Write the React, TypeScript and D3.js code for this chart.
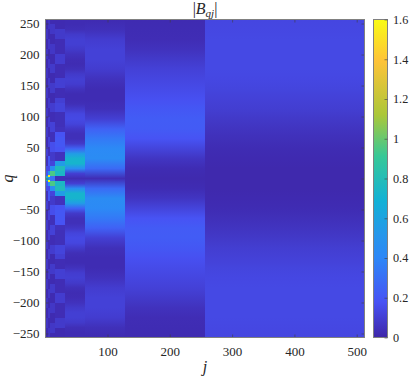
import { useEffect, useRef } from "react";
import * as d3 from "d3";

const width = 409;
const height = 377;
const margin = { top: 19.5, right: 44.5, bottom: 39.5, left: 45.5 };

const xTicks = [100, 200, 300, 400, 500];
const yTicks = [250, 200, 150, 100, 50, 0, -50, -100, -150, -200, -250];
const colorTicks = [0, 0.2, 0.4, 0.6, 0.8, 1, 1.2, 1.4, 1.6];

// parula anchors
const parulaStops = [0, 0.111, 0.25, 0.32, 0.43, 0.57, 0.7, 0.87, 1];
const parulaColors = ["#3e26a8", "#4752f4", "#2d87f7", "#2796eb", "#12b1d6", "#37c897", "#abc739", "#fec338", "#f9fb14"];

// |B| values, q = 256 down to 0, step 16 (wide bands)
const band257 = [0.13, 0.135, 0.14, 0.14, 0.14, 0.14, 0.135, 0.125, 0.11, 0.095, 0.075, 0.055, 0.04, 0.025, 0.018, 0.012, 0.012];
const band129 = [0.02, 0.025, 0.03, 0.05, 0.08, 0.11, 0.13, 0.15, 0.17, 0.2, 0.22, 0.215, 0.18, 0.12, 0.06, 0.025, 0.015];
const band65 = [0.02, 0.04, 0.09, 0.11, 0.11, 0.09, 0.05, 0.025, 0.025, 0.04, 0.1, 0.24, 0.34, 0.42, 0.44, 0.28, 0.03];
// q = 256 down to 0, step 8 (narrow bands)
const band33 = [0.025, 0.025, 0.035, 0.08, 0.1, 0.1, 0.08, 0.05, 0.03, 0.025, 0.04, 0.08, 0.1, 0.09, 0.05, 0.025, 0.025, 0.035, 0.08, 0.13, 0.14, 0.12, 0.07, 0.04, 0.04, 0.08, 0.25, 0.55, 0.72, 0.72, 0.45, 0.1, 0.03];
const band17 = [0.02, 0.02, 0.08, 0.08, 0.03, 0.03, 0.03, 0.09, 0.09, 0.03, 0.03, 0.03, 0.1, 0.1, 0.03, 0.03, 0.1, 0.12, 0.12, 0.04, 0.04, 0.04, 0.05, 0.18, 0.2, 0.2, 0.18, 0.05, 0.05, 0.55, 0.78, 0.75, 0.04];
const band9 = [0.02, 0.07, 0.07, 0.02, 0.02, 0.07, 0.07, 0.02, 0.02, 0.08, 0.08, 0.02, 0.02, 0.08, 0.08, 0.02, 0.02, 0.09, 0.09, 0.03, 0.03, 0.11, 0.11, 0.04, 0.04, 0.16, 0.16, 0.08, 0.08, 0.12, 0.45, 0.95, 0.3];
const band5 = [0.06, 0.06, 0.02, 0.02, 0.07, 0.07, 0.02, 0.02, 0.07, 0.07, 0.02, 0.02, 0.08, 0.08, 0.02, 0.02, 0.08, 0.08, 0.03, 0.03, 0.09, 0.09, 0.03, 0.03, 0.11, 0.11, 0.04, 0.04, 0.2, 0.2, 0.15, 0.5, 0.5];
const band1 = [0.02, 0.02, 0.06, 0.06, 0.02, 0.02, 0.06, 0.06, 0.02, 0.02, 0.06, 0.06, 0.02, 0.02, 0.07, 0.07, 0.02, 0.02, 0.07, 0.07, 0.03, 0.03, 0.08, 0.08, 0.03, 0.03, 0.1, 0.1, 0.05, 0.05, 0.15, 0.2, 0.7];

// the two hot spots beside q = 0 in j = 5..8
const hotQ = [8, 4, 0, -4, -8];
const hotValues = [0.5, 1.55, 0.5, 1.6, 0.5];

const smoothBands = [
  { from: 257, to: 512, half: band257 },
  { from: 129, to: 256, half: band129 },
  { from: 65, to: 128, half: band65 },
  { from: 33, to: 64, half: band33 },
];
const cellBands = [
  { from: 17, to: 32, half: band17 },
  { from: 9, to: 16, half: band9 },
  { from: 5, to: 8, half: band5 },
  { from: 1, to: 4, half: band1 },
];

const mirror = (half: number[]) => [...half, ...half.slice(0, -1).reverse()];

const App = () => {
  const svgRef = useRef<SVGSVGElement>(null);

  useEffect(() => {
    document.body.style.margin = "0";
    const svg = d3.select(svgRef.current);
    svg.selectAll("*").remove();

    const x0 = margin.left;
    const x1 = width - margin.right;
    const y0 = margin.top;
    const y1 = height - margin.bottom;
    const font = "'Liberation Serif', serif";

    const x = d3.scaleLinear().domain([0.5, 512.5]).range([x0, x1]);
    const y = d3.scaleLinear().domain([256.5, -256.5]).range([y0, y1]);
    const parula = d3
      .scaleLinear<string>()
      .domain(parulaStops.map((t) => t * 1.6))
      .range(parulaColors)
      .clamp(true);

    const defs = svg.append("defs");

    // wide bands are smooth in q
    smoothBands.forEach((b, i) => {
      const vals = mirror(b.half);
      const grad = defs
        .append("linearGradient")
        .attr("id", `band${i}`)
        .attr("x1", 0)
        .attr("x2", 0)
        .attr("y1", 0)
        .attr("y2", 1);
      vals.forEach((v, k) => {
        grad
          .append("stop")
          .attr("offset", k / (vals.length - 1))
          .attr("stop-color", parula(v));
      });
      svg
        .append("rect")
        .attr("x", x(b.from - 0.5))
        .attr("y", y0)
        .attr("width", x(b.to + 0.5) - x(b.from - 0.5))
        .attr("height", y1 - y0)
        .attr("shape-rendering", "crispEdges")
        .attr("fill", `url(#band${i})`);
    });

    // narrow bands are stepped
    cellBands.forEach((b) => {
      const vals = mirror(b.half);
      const q = d3.scaleBand<number>().domain(d3.range(vals.length)).range([y0, y1]);
      svg
        .append("g")
        .attr("shape-rendering", "crispEdges")
        .selectAll("rect")
        .data(vals)
        .join("rect")
        .attr("x", x(b.from - 0.5))
        .attr("width", x(b.to + 0.5) - x(b.from - 0.5))
        .attr("y", (_, k) => q(k) as number)
        .attr("height", q.bandwidth() + 0.5)
        .attr("fill", (d) => parula(d));
    });

    svg
      .append("g")
      .attr("shape-rendering", "crispEdges")
      .selectAll("rect")
      .data(hotQ)
      .join("rect")
      .attr("x", x(4.5))
      .attr("width", x(8.5) - x(4.5))
      .attr("y", (d) => y(d + 2))
      .attr("height", y(0) - y(4))
      .attr("fill", (_, k) => parula(hotValues[k]));

    // axes
    const styleAxis = (g: any, size = 13) => {
      g.selectAll(".domain").remove();
      g.selectAll("line").attr("stroke", "#404040").attr("stroke-width", 0.6);
      g.selectAll("text").attr("font-family", font).attr("font-size", size).attr("fill", "#262626");
    };
    svg
      .append("g")
      .attr("transform", `translate(0,${y1})`)
      .call(d3.axisBottom(x).tickValues(xTicks).tickFormat(d3.format("d")).tickSizeInner(-3).tickPadding(9))
      .call(styleAxis);
    svg
      .append("g")
      .attr("transform", `translate(0,${y0})`)
      .call(d3.axisTop(x).tickValues(xTicks).tickFormat(() => "").tickSizeInner(-3))
      .call(styleAxis);
    svg
      .append("g")
      .attr("transform", `translate(${x0},0)`)
      .call(d3.axisLeft(y).tickValues(yTicks).tickFormat(d3.format("d")).tickSizeInner(-3).tickPadding(6))
      .call(styleAxis);
    svg
      .append("g")
      .attr("transform", `translate(${x1},0)`)
      .call(d3.axisRight(y).tickValues(yTicks).tickFormat(() => "").tickSizeInner(-3))
      .call(styleAxis);
    svg
      .append("rect")
      .attr("x", x0)
      .attr("y", y0)
      .attr("width", x1 - x0)
      .attr("height", y1 - y0)
      .attr("fill", "none")
      .attr("stroke", "#808080");

    // colorbar
    const cx0 = 373.5;
    const cx1 = 387.5;
    const c = d3.scaleLinear().domain([0, 1.6]).range([y1, y0]);
    const cbGrad = defs
      .append("linearGradient")
      .attr("id", "cbar")
      .attr("x1", 0)
      .attr("x2", 0)
      .attr("y1", 1)
      .attr("y2", 0);
    parulaStops.forEach((t, k) => {
      cbGrad.append("stop").attr("offset", t).attr("stop-color", parulaColors[k]);
    });
    svg
      .append("rect")
      .attr("x", cx0)
      .attr("y", y0)
      .attr("width", cx1 - cx0)
      .attr("height", y1 - y0)
      .attr("fill", "url(#cbar)")
      .attr("stroke", "#808080");
    svg
      .append("g")
      .attr("transform", `translate(${cx1},0)`)
      .call(d3.axisRight(c).tickValues(colorTicks).tickFormat((d) => String(d)).tickSizeInner(-3).tickPadding(5.5))
      .call((g: any) => styleAxis(g, 12.2));

    // labels
    svg
      .append("text")
      .attr("x", (x0 + x1) / 2)
      .attr("y", 372)
      .attr("text-anchor", "middle")
      .attr("font-family", font)
      .attr("font-style", "italic")
      .attr("font-size", 16)
      .attr("fill", "#262626")
      .text("j");
    svg
      .append("text")
      .attr("transform", `translate(13,${(y0 + y1) / 2}) rotate(-90)`)
      .attr("text-anchor", "middle")
      .attr("font-family", font)
      .attr("font-style", "italic")
      .attr("font-size", 16)
      .attr("fill", "#262626")
      .text("q");

    const title = svg
      .append("text")
      .attr("x", (x0 + x1) / 2)
      .attr("y", 14)
      .attr("text-anchor", "middle")
      .attr("font-family", font)
      .attr("font-size", 16)
      .attr("fill", "#262626");
    title.append("tspan").text("|");
    title.append("tspan").attr("font-style", "italic").text("B");
    title.append("tspan").attr("font-style", "italic").attr("font-size", 11).attr("dy", 3).text("qj");
    title.append("tspan").attr("dy", -3).text("|");
  }, []);

  return <svg ref={svgRef} width={width} height={height} style={{ display: "block" }} />;
};

export default App;
